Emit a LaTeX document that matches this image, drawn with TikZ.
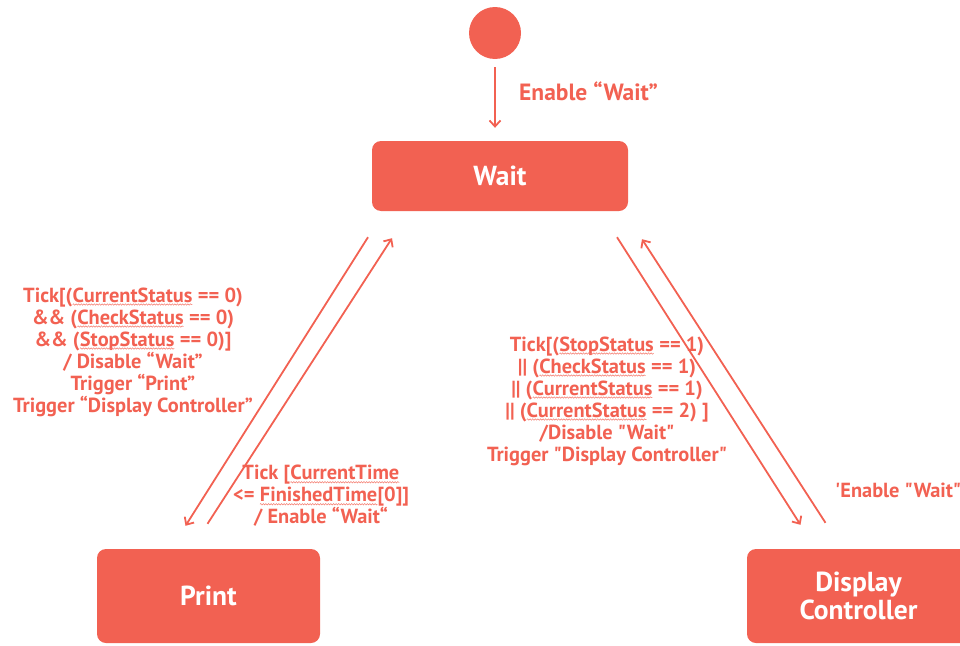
\documentclass[tikz,border=0pt]{standalone}
\usepackage{fontspec}
\setmainfont{PT Sans}[Ligatures=TeXOff]
\usetikzlibrary{arrows.meta,calc,decorations.pathmorphing}
\definecolor{tom}{HTML}{F26152}
\newcommand{\sq}{\char34\relax}
\newcommand{\wv}[1]{\tikz[baseline=(wt.base)]{\node[inner sep=0pt,outer sep=0pt] (wt) {#1};
  \draw[tom!85,line width=0.5pt,decorate,decoration={snake,amplitude=0.7pt,segment length=2.6pt}] ($(wt.base west)+(0,-2.4pt)$) -- ($(wt.base east)+(0,-2.4pt)$);}}
\begin{document}
\begin{tikzpicture}[x=1pt,y=-1pt,
  state/.style={fill=tom,draw=none,rounded corners=9pt,text=white,font=\bfseries\fontsize{27.5}{28}\selectfont,align=center,inner sep=0pt},
  lbl/.style={text=tom,font=\bfseries\fontsize{20.4}{22}\selectfont,align=center,inner sep=0pt},
  tr/.style={draw=tom,line width=1.8pt,-{Straight Barb[length=6pt,width=11pt,line width=1.8pt]}},
  ln/.style={draw=tom,line width=1.8pt}]
\useasboundingbox (0,0) rectangle (960,645);
\node[circle,fill=tom,minimum size=52pt,inner sep=0pt] (init) at (495,33) {};
\node[state,minimum width=256pt,minimum height=70pt] (wait) at (500,176) {Wait};
\node[state,minimum width=223pt,minimum height=94pt] (print) at (208.5,596) {Print};
\node[state,minimum width=223pt,minimum height=94pt] (disp) at (858.5,596) {Display\\Controller};
\coordinate (a0) at ($(init.south)+(0,8)$);
\coordinate (a1) at ($(wait.north)+(-5,-13)$);
\draw[tr] (a0) -- (a1);
\node[lbl,anchor=west,font=\bfseries\fontsize{23.5}{26}\selectfont] (l0) at (519,91) {Enable “Wait”};
% left pair
\draw[tr] ($(wait.south)+(-132,26)$) -- ($(print.north)+(-23,-23)$);
\draw[tr] ($(print.north)+(-1,-25)$) -- ($(wait.south)+(-108,27)$);
% right pair
\draw[tr] ($(wait.south)+(117,26)$) -- ($(disp.north)+(-58,-24)$);
\draw[tr] ($(disp.north)+(-33,-26)$) -- ($(wait.south)+(142,28)$);
\node[lbl] (l1) at (133,352) {Tick[(\wv{CurrentStatus} == 0)\\
 \&\& (\wv{CheckStatus} == 0)\\
 \&\& (\wv{StopStatus} == 0)]\\
 / Disable “Wait”\\
 Trigger “Print”\\
 Trigger “Display Controller”};
\node[lbl] (l2) at (321,496) {Tick [\wv{CurrentTime}\\
 <= \wv{FinishedTime}[0]]\\
 / Enable “Wait“};
\node[lbl] (l3) at (607,401) {Tick[(\wv{StopStatus} == 1)\\
 || (\wv{CheckStatus} == 1)\\
 || (\wv{CurrentStatus} == 1)\\
 || (\wv{CurrentStatus} == 2) ]\\
 /Disable \sq Wait\sq\\
 Trigger \sq Display Controller\sq};
\node[lbl,anchor=west] (l4) at (835,490) {'Enable \sq Wait\sq};
\end{tikzpicture}
\end{document}
